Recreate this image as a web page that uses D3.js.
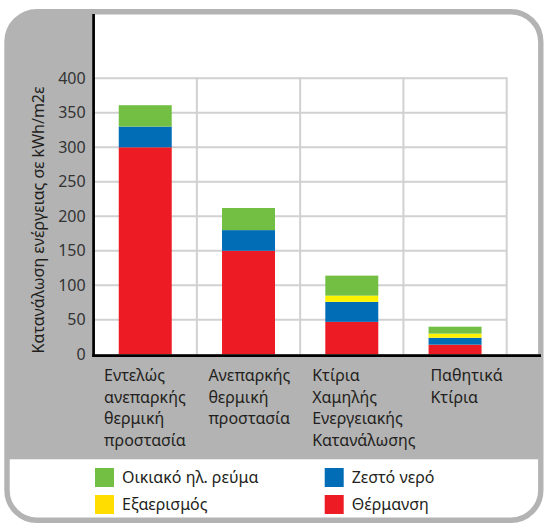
<!DOCTYPE html>
<html>
<head>
    <meta charset="utf-8">
    <style>
        html, body {
            margin: 0;
            padding: 0;
            background-color: white;
        }
        text {
            font-family: 'Noto Sans', 'DejaVu Sans', sans-serif;
            fill: #231f20;
        }
        .grid line {
            stroke: #d1d1d1;
            stroke-width: 2px;
        }
    </style>
</head>
<body>

    <svg id="chart" width="544" height="524"></svg>

    <script src="https://cdn.jsdelivr.net/npm/d3@7"></script>

    <script>
        // categories (one array of lines per bar)
        var categories = [
            ["Εντελώς", "ανεπαρκής", "θερμική", "προστασία"],
            ["Ανεπαρκής", "θερμική", "προστασία"],
            ["Κτίρια", "Χαμηλής", "Ενεργειακής", "Κατανάλωσης"],
            ["Παθητικά", "Κτίρια"]
        ];
        // kWh/m2 per year, bottom to top of each bar
        var heating     = [300, 150, 47, 14];
        var hotWater    = [30, 30, 29, 10];
        var ventilation = [0, 0, 9, 6];
        var electricity = [31, 32, 29, 10];

        var seriesNames = ["Θέρμανση", "Ζεστό νερό", "Εξαερισμός", "Οικιακό ηλ. ρεύμα"];
        var yTicks = [0, 50, 100, 150, 200, 250, 300, 350, 400];
        var yTitle = "Κατανάλωση ενέργειας σε kWh/m2ε";

        var colors = ["#ed1c24", "#006db6", "#fff200", "#72bf44"];
        var legendColors = ["#ed1c24", "#006db6", "#ffdd00", "#72bf44"];

        var svg = d3.select("svg"),
            gray = "#b3b3b3";

        // frame
        var frame = {x: 7, y: 11.7, w: 533.8, h: 508.6, r: 30};
        var plotLeft = 93.6, plotTop = 14, plotBottom = 354.3, plotRight = 506.7;

        svg.append("clipPath").attr("id", "frameClip")
            .append("rect")
            .attr("x", frame.x).attr("y", frame.y)
            .attr("width", frame.w).attr("height", frame.h)
            .attr("rx", frame.r);

        svg.append("rect")
            .attr("x", frame.x).attr("y", frame.y)
            .attr("width", frame.w).attr("height", frame.h)
            .attr("rx", frame.r)
            .attr("fill", gray);

        var inner = svg.append("g").attr("clip-path", "url(#frameClip)");
        inner.append("rect")
            .attr("x", plotLeft).attr("y", plotTop)
            .attr("width", 544 - plotLeft).attr("height", plotBottom - plotTop)
            .attr("fill", "white");
        inner.append("rect")
            .attr("x", 0).attr("y", 459.3)
            .attr("width", 544).attr("height", 70)
            .attr("fill", "white");

        svg.append("rect")
            .attr("x", frame.x).attr("y", frame.y)
            .attr("width", frame.w).attr("height", frame.h)
            .attr("rx", frame.r)
            .attr("fill", "none")
            .attr("stroke", gray)
            .attr("stroke-width", 5.4);

        // scales
        var x = d3.scaleBand()
            .domain(d3.range(categories.length))
            .range([plotLeft, plotRight])
            .paddingInner(0.487)
            .paddingOuter(0.2435);

        var y = d3.scaleLinear()
            .domain([0, 400])
            .range([plotBottom, 78.3]);

        // grid
        svg.append("g")
            .attr("class", "grid")
            .selectAll("line.h")
            .data(yTicks.slice(1))
            .enter().append("line")
            .attr("x1", plotLeft).attr("x2", plotRight)
            .attr("y1", function(d) { return y(d); })
            .attr("y2", function(d) { return y(d); });

        svg.append("g")
            .attr("class", "grid")
            .selectAll("line.v")
            .data(d3.range(1, categories.length + 1))
            .enter().append("line")
            .attr("x1", function(i) { return plotLeft + i * x.step(); })
            .attr("x2", function(i) { return plotLeft + i * x.step(); })
            .attr("y1", y(400) - 1).attr("y2", plotBottom);

        // bars
        var table = categories.map(function(c, i) {
            return {i: i, s0: heating[i], s1: hotWater[i], s2: ventilation[i], s3: electricity[i]};
        });
        var stack = d3.stack().keys(["s0", "s1", "s2", "s3"])(table);

        svg.append("g")
            .selectAll("g")
            .data(stack)
            .enter().append("g")
            .attr("fill", function(d, k) { return colors[k]; })
            .selectAll("rect")
            .data(function(d) { return d; })
            .enter().append("rect")
            .attr("x", function(d) { return x(d.data.i); })
            .attr("width", x.bandwidth())
            .attr("y", function(d) { return y(d[1]); })
            .attr("height", function(d) { return y(d[0]) - y(d[1]); });

        // axes lines
        svg.append("line")
            .attr("x1", plotLeft).attr("x2", plotLeft)
            .attr("y1", plotTop).attr("y2", plotBottom + 2.6)
            .attr("stroke", "black").attr("stroke-width", 2.7);
        svg.append("line")
            .attr("x1", plotLeft - 1.3).attr("x2", 541)
            .attr("y1", plotBottom + 1.3).attr("y2", plotBottom + 1.3)
            .attr("stroke", "black").attr("stroke-width", 2.7);

        // y tick labels
        var yAxis = svg.append("g")
            .attr("transform", "translate(" + plotLeft + ",0)")
            .call(d3.axisLeft(y).tickValues(yTicks).tickSize(0).tickPadding(8));
        yAxis.select(".domain").remove();
        yAxis.selectAll("text")
            .style("font-family", "'Noto Sans', sans-serif")
            .style("font-size", "16px")
            .style("fill", "#333");

        // y title
        svg.append("text")
            .attr("transform", "translate(43.5," + 220 + ") rotate(-90)")
            .attr("text-anchor", "middle")
            .style("font-size", "16px")
            .text(yTitle);

        // category labels
        var labelNudge = [10.5, 11.5, 12, 27];
        var labels = svg.append("g")
            .selectAll("text")
            .data(categories)
            .enter().append("text")
            .attr("x", function(d, i) { return plotLeft + i * x.step() + labelNudge[i]; })
            .attr("y", 381)
            .style("font-size", "16px");
        labels.selectAll("tspan")
            .data(function(d) { return d; })
            .enter().append("tspan")
            .attr("x", function() { return d3.select(this.parentNode).attr("x"); })
            .attr("dy", function(d, j) { return j === 0 ? 0 : 21.5; })
            .text(function(d) { return d; });

        // legend: two columns
        var legendOrder = [3, 2, 1, 0];
        var legend = svg.append("g")
            .selectAll("g")
            .data(legendOrder)
            .enter().append("g")
            .attr("transform", function(k, n) {
                return "translate(" + (n < 2 ? 95 : 324.7) + "," + (468 + (n % 2) * 27) + ")";
            });
        legend.append("rect")
            .attr("width", 19).attr("height", 19)
            .attr("fill", function(k) { return legendColors[k]; });
        legend.append("text")
            .attr("x", 27).attr("y", 9.5).attr("dy", "0.36em")
            .style("font-size", "16px")
            .text(function(k) { return seriesNames[k]; });
    </script>
</body>
</html>
